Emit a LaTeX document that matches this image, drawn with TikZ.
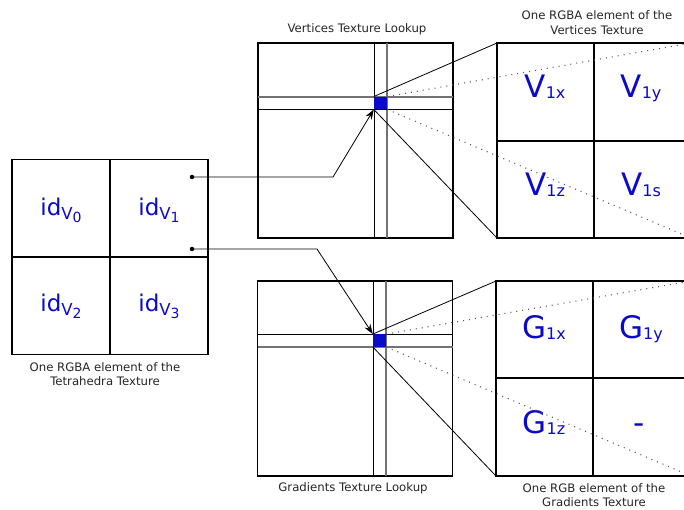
\documentclass[tikz,border=0pt]{standalone}
\usepackage{fontspec}
\setmainfont{DejaVu Sans}
\usetikzlibrary{arrows.meta}
\definecolor{vblue}{RGB}{10,10,200}
\newcommand\idtxt[1]{{\fontsize{23}{23}\selectfont id}\raisebox{-4pt}{\fontsize{16.5}{16.5}\selectfont V\raisebox{-3.5pt}{\fontsize{14}{14}\selectfont #1}}}
\newcommand\bigtxt[2]{{\fontsize{31}{31}\selectfont #1}\raisebox{-1pt}{\fontsize{16}{16}\selectfont #2}}
\begin{document}
\begin{tikzpicture}[x=1pt,y=-1pt,
  cell/.style={draw,line width=1.5pt,inner sep=0pt,minimum width=#1},
  look/.style={draw,line width=1.7pt,inner sep=0pt,minimum width=195pt,minimum height=195pt},
  gridb/.style={line width=0.9pt},
  gridg/.style={line width=1.2pt,black!55},
  dotl/.style={black!65,line width=1.1pt,dash pattern=on 1pt off 5pt},
  conn/.style={line width=0.8pt},
  tip/.style={-{Stealth[length=10pt,width=7pt]}},
  vtext/.style={anchor=base,text=vblue,inner sep=0pt},
  lab/.style={font=\fontsize{11.7}{14.5}\selectfont,align=center,text=black!85,inner sep=0pt},
  dotn/.style={circle,fill,inner sep=0pt,minimum size=4.5pt},
  sq/.style={fill=vblue,inner sep=0pt,minimum width=13pt,minimum height=12.5pt}]
\clip (0,0) rectangle (684,509);
\fill[white] (0,0) rectangle (684,509);

% ---------- left: tetrahedra texture element ----------
\node[cell=98pt,minimum height=97.5pt] (t0) at (61,208.25) {};
\node[cell=98pt,minimum height=97.5pt] (t1) at (159,208.25) {};
\node[cell=98pt,minimum height=97.5pt] (t2) at (61,305.75) {};
\node[cell=98pt,minimum height=97.5pt] (t3) at (159,305.75) {};
\node[vtext] (i0) at (61,215) {\idtxt{0}};
\node[vtext] (i1) at (159,215) {\idtxt{1}};
\node[vtext] (i2) at (61,311) {\idtxt{2}};
\node[vtext] (i3) at (159,311) {\idtxt{3}};
\node[lab] (lt) at (105,374) {One RGBA element of the\\Tetrahedra Texture};
\node[dotn] (dA) at (192,177) {};
\node[dotn] (dB) at (192,249) {};

% ---------- middle top: vertices lookup ----------
\node[look] (lv) at (355.5,140.5) {};
\draw[gridb] (374,43) -- (374,238);
\draw[gridg] (387,43) -- (387,238);
\draw[gridg] (258,97) -- (453,97);
\draw[gridb] (258,109) -- (453,109);
\node[sq] (sv) at (380.5,103) {};
\node[lab] (llv) at (357,29) {Vertices Texture Lookup};

% ---------- middle bottom: gradients lookup ----------
\node[look] (lg) at (355,378.5) {};
\draw[gridb] (373,281) -- (373,476);
\draw[gridg] (386,281) -- (386,476);
\draw[gridb] (257.5,334) -- (452.5,334);
\draw[gridg] (257.5,347) -- (452.5,347);
\node[sq] (sg) at (379.5,340.5) {};
\node[lab] (llg) at (353,488) {Gradients Texture Lookup};

% ---------- right top: vertices texture element ----------
\node[cell=97pt,minimum height=98pt] (v0) at (545.5,92) {};
\node[cell=97pt,minimum height=98pt] (v1) at (642.5,92) {};
\node[cell=97pt,minimum height=97pt] (v2) at (545.5,189.5) {};
\node[cell=97pt,minimum height=97pt] (v3) at (642.5,189.5) {};
\coordinate (rvNW) at (497,43);
\coordinate (rvSW) at (497,238);
\coordinate (rvNE) at (691,43);
\coordinate (rvSE) at (691,238);
\node[vtext] (tv0) at (545,97) {\bigtxt{V}{1x}};
\node[vtext] (tv1) at (641,97) {\bigtxt{V}{1y}};
\node[vtext] (tv2) at (545,195) {\bigtxt{V}{1z}};
\node[vtext] (tv3) at (641,195) {\bigtxt{V}{1s}};
\node[lab] (lrv) at (597,22.5) {One RGBA element of the\\Vertices Texture};

% ---------- right bottom: gradients texture element ----------
\node[cell=97pt,minimum height=97pt] (g0) at (544.5,329.5) {};
\node[cell=98pt,minimum height=97pt] (g1) at (642,329.5) {};
\node[cell=97pt,minimum height=98pt] (g2) at (544.5,427) {};
\node[cell=98pt,minimum height=98pt] (g3) at (642,427) {};
\coordinate (rgNW) at (496,281);
\coordinate (rgSW) at (496,476);
\coordinate (rgNE) at (691,281);
\coordinate (rgSE) at (691,476);
\node[vtext] (tg0) at (544,338) {\bigtxt{G}{1x}};
\node[vtext] (tg1) at (641,338) {\bigtxt{G}{1y}};
\node[vtext] (tg2) at (544,433) {\bigtxt{G}{1z}};
\node[vtext] (tg3) at (639,433) {{\fontsize{31}{31}\selectfont -}};
\node[lab] (lrg) at (594,495) {One RGB element of the\\Gradients Texture};

% ---------- connectors ----------
\coordinate (kA) at (333,177);
\coordinate (kB) at (317,249);
\draw[conn,tip] (dA.center) -- (kA) -- (sv.south west);
\draw[conn,tip] (dB.center) -- (kB) -- (sg.north west);

\draw[conn] (sv.north west) -- (rvNW);
\draw[conn] (sv.south west) -- (rvSW);
\draw[dotl] (sv.north east) -- (rvNE);
\draw[dotl] (sv.south east) -- (rvSE);

\draw[conn] (sg.north west) -- (rgNW);
\draw[conn] (sg.south west) -- (rgSW);
\draw[dotl] (sg.north east) -- (rgNE);
\draw[dotl] (sg.south east) -- (rgSE);
\end{tikzpicture}
\end{document}
